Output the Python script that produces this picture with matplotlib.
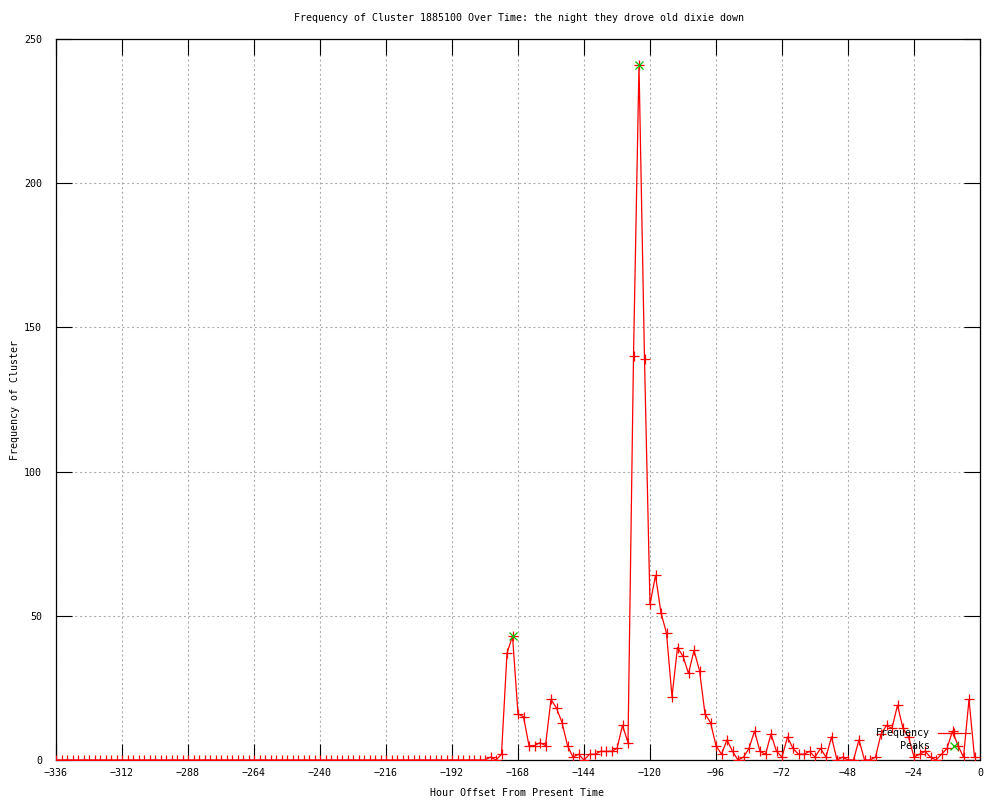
import matplotlib
matplotlib.use("Agg")
import matplotlib.pyplot as plt
import numpy as np

plt.rcParams['font.family'] = ['DejaVu Sans Mono']
plt.rcParams['lines.scale_dashes'] = False

title = "Frequency of Cluster 1885100 Over Time: the night they drove old dixie down"
x_label = "Hour Offset From Present Time"
y_label = "Frequency of Cluster"

# hours -336 .. -2 step 2
hours = list(range(-336, 0, 2))
leading_zeros = [0] * 79  # -336 .. -180
active_counts = [
    1, 0, 2, 37, 43, 16, 15, 5, 5, 6,          # -178 .. -160
    5, 21, 18, 13, 5, 1, 2, 0, 2, 2,           # -158 .. -140
    3, 3, 3, 4, 12, 6, 140, 241, 139, 54,      # -138 .. -120
    64, 51, 44, 22, 39, 36, 30, 38, 31, 16,    # -118 .. -100
    13, 5, 2, 7, 3, 0, 1, 4, 10, 3,            # -98 .. -80
    2, 9, 3, 1, 8, 4, 2, 2, 3, 1,              # -78 .. -60
    4, 1, 8, 0, 1, 0, 0, 7, 0, 0,              # -58 .. -40
    1, 9, 12, 11, 19, 11, 8, 1, 2, 3,          # -38 .. -20
    1, 0, 2, 4, 10, 5, 1, 21, 1,               # -18 .. -2
]
frequency = leading_zeros + active_counts

peak_hours = [-170, -124]
peak_values = [43, 241]

x_ticks = list(range(-336, 1, 24))
y_ticks = [0, 50, 100, 150, 200, 250]

fs = 7.2
fig = plt.figure(figsize=(10, 8), dpi=100)
ax = fig.add_axes([0.056, 0.05, 0.924, 0.90125])

ax.plot(hours, frequency, color='#ff0000', lw=0.9, marker='+', ms=6.5, mew=0.9,
        label='Frequency', zorder=3)
ax.plot(peak_hours, peak_values, color='#00c000', lw=0, marker='x', ms=5.5, mew=0.9,
        label='Peaks', zorder=4)

ax.set_xlim(-336, 0)
ax.set_ylim(0, 250)
ax.set_xticks(x_ticks)
ax.set_yticks(y_ticks)
ax.tick_params(direction='in', length=11.5, width=0.8, top=True, right=True,
               labelsize=fs, color='black')
ax.tick_params(axis='y', pad=10)
ax.tick_params(axis='x', pad=6)
for s in ax.spines.values():
    s.set_linewidth(0.9)

ax.grid(True, color='#a8a8a8', lw=0.8, linestyle=(0, (1.4, 2.0)))
ax.set_axisbelow(True)

fig.text(0.519, 1 - 18 / 800, title, ha='center', va='center', fontsize=fs)
fig.text(0.517, 1 - 793 / 800, x_label, ha='center', va='center', fontsize=fs)
fig.text(0.015, 1 - 399.5 / 800, y_label, ha='center', va='center', fontsize=fs,
         rotation=90)

leg = ax.legend(loc='upper right', bbox_to_anchor=(970 / 1000, 1 - 728 / 800),
                bbox_transform=fig.transFigure, frameon=False, markerfirst=False,
                fontsize=fs, handlelength=3.2, handletextpad=0.8, labelspacing=0.3,
                borderpad=0, borderaxespad=0, numpoints=1)

fig.savefig('out.png', dpi=100)
